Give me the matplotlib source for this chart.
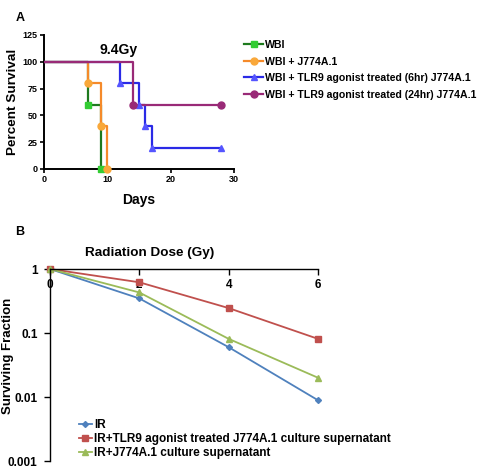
import matplotlib
matplotlib.use('Agg')
import matplotlib.pyplot as plt
from matplotlib.lines import Line2D
from matplotlib.ticker import FixedLocator, FixedFormatter

plt.rcParams['font.family'] = ['Liberation Sans', 'DejaVu Sans']
plt.rcParams['font.weight'] = 'bold'

# panel A: survival after 9.4Gy (Kaplan-Meier steps)
wbi_t = [0, 7, 9]
wbi_s = [100, 60, 0]
j774_t = [0, 7, 9, 10]
j774_s = [100, 80, 40, 0]
tlr6_t = [0, 12, 15, 16, 17, 28]
tlr6_s = [100, 80, 60, 40, 20, 20]
tlr24_t = [0, 14, 28]
tlr24_s = [100, 60, 60]
labels_a = ['WBI', 'WBI + J774A.1',
            'WBI + TLR9 agonist treated (6hr) J774A.1',
            'WBI + TLR9 agonist treated (24hr) J774A.1']

# panel B: clonogenic survival
dose = [0, 2, 4, 6]
sf_ir = [1, 0.347, 0.060, 0.0089]
sf_tlr9 = [1, 0.62, 0.245, 0.081]
sf_j774 = [1, 0.43, 0.081, 0.020]
labels_b = ['IR', 'IR+TLR9 agonist treated J774A.1 culture supernatant',
            'IR+J774A.1 culture supernatant']

fig = plt.figure(figsize=(4.83, 4.69), dpi=100)

# ---------- A ----------
axa = fig.add_axes([44/483, 1-169/469, 190/483, 134/469])
series_a = [
    (wbi_t, wbi_s, '#1e7a1e', '#33cc33', 's'),
    (j774_t, j774_s, '#f58a2a', '#f9a83a', 'o'),
    (tlr6_t, tlr6_s, '#2a2ae6', '#5555ff', '^'),
    (tlr24_t, tlr24_s, '#992a77', '#992a77', 'o'),
]
handles = []
for (t, s, lc, mc, mk), lab in zip(series_a, labels_a):
    axa.step(t, s, where='post', color=lc, lw=1.6, zorder=3)
    axa.plot(t[1:], s[1:], ls='none', marker=mk, ms=5, color=mc, zorder=4, clip_on=False)
    handles.append(Line2D([], [], color=lc, lw=1.6, marker=mk, ms=5,
                          markerfacecolor=mc, markeredgecolor=mc, label=lab))

axa.set_xlim(0, 30)
axa.set_ylim(0, 125)
axa.set_xticks([0, 10, 20, 30])
axa.set_yticks([0, 25, 50, 75, 100, 125])
axa.tick_params(labelsize=6.5, length=3, width=1.2, pad=1.5)
for sp in ['top', 'right']:
    axa.spines[sp].set_visible(False)
for sp in ['left', 'bottom']:
    axa.spines[sp].set_linewidth(1.4)
axa.set_ylabel('Percent Survival', fontsize=9.7, fontweight='bold')
axa.yaxis.set_label_coords(-0.13, 0.5)
axa.set_xlabel('Days', fontsize=10, fontweight='bold', labelpad=6)
axa.text(0.39, 0.89, '9.4Gy', transform=axa.transAxes, ha='center', va='center',
         fontsize=10, fontweight='bold')
fig.text(16/483, 1-18/469, 'A', fontsize=9, fontweight='bold', va='center')

fig.legend(handles=handles, loc='upper left', bbox_to_anchor=(244/483, 1-40/469),
           frameon=False, fontsize=7.6, handlelength=1.8, handletextpad=0.2,
           labelspacing=0.62, borderpad=0, borderaxespad=0)

# ---------- B ----------
axb = fig.add_axes([50/483, 1-461/469, 268/483, 192/469])
axb.plot(dose, sf_ir, color='#4f81bd', marker='D', ms=3, lw=1.3, label=labels_b[0], clip_on=False)
axb.plot(dose, sf_tlr9, color='#c0504d', marker='s', ms=4, lw=1.3, label=labels_b[1], clip_on=False)
axb.plot(dose, sf_j774, color='#9bbb59', marker='^', ms=4, lw=1.3, label=labels_b[2], clip_on=False)
axb.set_yscale('log')
axb.set_ylim(0.001, 1)
axb.set_xlim(0, 6)
axb.yaxis.set_major_locator(FixedLocator([0.001, 0.01, 0.1, 1]))
axb.yaxis.set_major_formatter(FixedFormatter(['0.001', '0.01', '0.1', '1']))
axb.yaxis.set_minor_locator(FixedLocator([]))
axb.set_xticks(dose)
axb.xaxis.tick_top()
axb.tick_params(axis='x', direction='in', length=4, width=1, labelsize=8.5, pad=-16)
axb.tick_params(axis='y', direction='out', length=4, width=1, labelsize=8.5, pad=5)
axb.spines['bottom'].set_visible(False)
axb.spines['right'].set_visible(False)
axb.spines['top'].set_linewidth(1)
axb.spines['left'].set_linewidth(1)
axb.set_ylabel('Surviving Fraction', fontsize=9.5, fontweight='bold')
axb.yaxis.set_label_coords(-0.134, 0.547)
axb.text(150/483, 1-253/469, 'Radiation Dose (Gy)', transform=fig.transFigure,
         ha='center', va='center', fontsize=9.7, fontweight='bold')
fig.text(15/483, 1-232/469, 'B', fontsize=9, fontweight='bold', va='center')

axb.legend(loc='upper left', bbox_to_anchor=(79/483, 1-419/469), bbox_transform=fig.transFigure,
           frameon=False, fontsize=8.5, handlelength=1.1, handletextpad=0.15,
           labelspacing=0.18, borderpad=0, borderaxespad=0)

fig.savefig('out.png', dpi=100)
